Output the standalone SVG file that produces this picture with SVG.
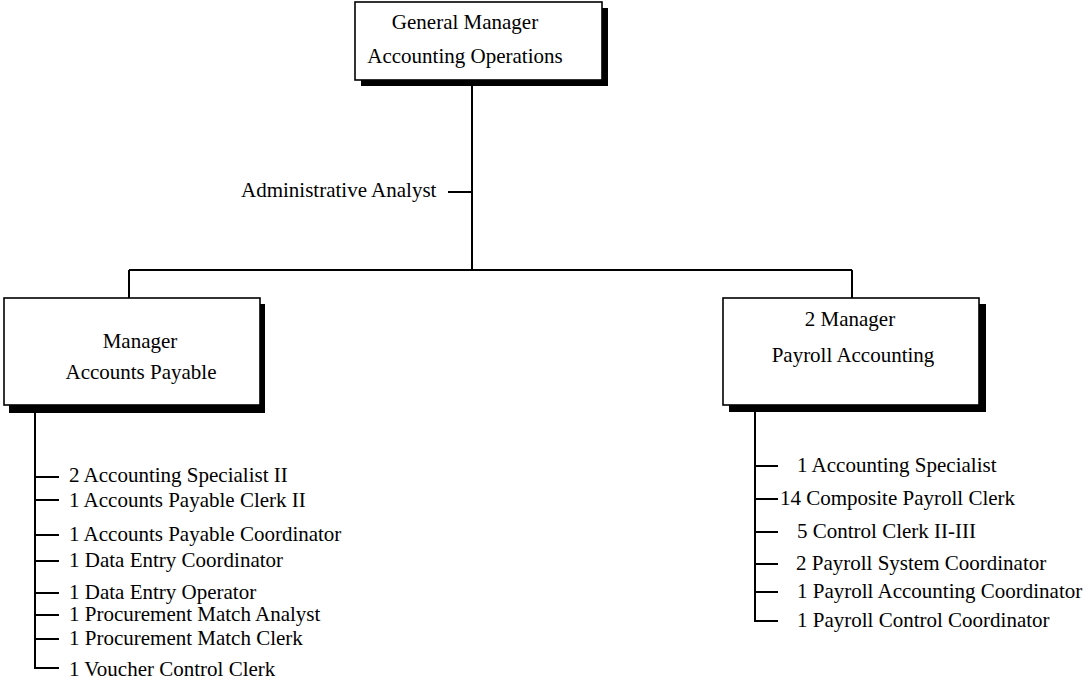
<svg xmlns="http://www.w3.org/2000/svg" width="1089" height="684" viewBox="0 0 1089 684">
<style>
.t{font-family:"Liberation Serif","Times New Roman",serif;font-size:21px;fill:#000}
.c{text-anchor:middle}
.box{fill:#fff;stroke:#000;stroke-width:1.6}
.sh{fill:#000}
.ln{stroke:#000;stroke-width:2;fill:none}
</style>
<rect width="1089" height="684" fill="#fff"/>
<g id="connectors">
<path class="ln" d="M472 84V270M448 192H472M129 270H852M129 270V298M852 270V298"/>
<path class="ln" d="M35 411V668H59M35 477H59M35 500H59M35 535H59M35 561H59M35 593H59M35 615H59M35 639H59"/>
<path class="ln" d="M755 411V621H778M755 466H778M755 499H778M755 532H778M755 564H778M755 592H778"/>
</g>
<g id="gm">
<rect class="sh" x="361" y="8" width="247" height="78"/>
<rect class="box" x="355" y="2" width="247" height="78"/>
<text class="t c" x="465" y="29">General Manager</text>
<text class="t c" x="465" y="63">Accounting Operations</text>
</g>
<g id="analyst">
<text class="t" x="241" y="197">Administrative Analyst</text>
</g>
<g id="ap">
<rect class="sh" x="9" y="304" width="256" height="109"/>
<rect class="box" x="4" y="298" width="256" height="107"/>
<text class="t c" x="140" y="348">Manager</text>
<text class="t c" x="141" y="379">Accounts Payable</text>
</g>
<g id="pa">
<rect class="sh" x="729" y="304" width="257" height="108"/>
<rect class="box" x="723" y="298" width="256" height="107"/>
<text class="t c" x="850" y="326">2 Manager</text>
<text class="t c" x="853" y="362">Payroll Accounting</text>
</g>
<g id="ap-staff">
<text class="t" x="69" y="482">2 Accounting Specialist II</text>
<text class="t" x="69" y="507">1 Accounts Payable Clerk II</text>
<text class="t" x="69" y="541">1 Accounts Payable Coordinator</text>
<text class="t" x="69" y="567">1 Data Entry Coordinator</text>
<text class="t" x="69" y="599">1 Data Entry Operator</text>
<text class="t" x="69" y="621">1 Procurement Match Analyst</text>
<text class="t" x="69" y="645">1 Procurement Match Clerk</text>
<text class="t" x="69" y="676">1 Voucher Control Clerk</text>
</g>
<g id="pa-staff">
<text class="t" x="797" y="472">1 Accounting Specialist</text>
<text class="t" x="780" y="505">14 Composite Payroll Clerk</text>
<text class="t" x="797" y="538">5 Control Clerk II-III</text>
<text class="t" x="796" y="570">2 Payroll System Coordinator</text>
<text class="t" x="797" y="598">1 Payroll Accounting Coordinator</text>
<text class="t" x="797" y="627">1 Payroll Control Coordinator</text>
</g>
</svg>
